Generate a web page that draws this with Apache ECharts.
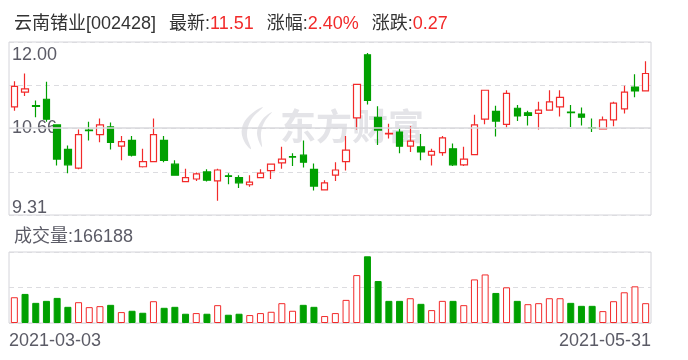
<!DOCTYPE html>
<html>
<head>
<meta charset="utf-8">
<script src="https://cdn.jsdelivr.net/npm/echarts@6/dist/echarts.min.js"></script>
<style>html,body{margin:0;padding:0;background:#fff}#c{width:688px;height:360px}</style>
</head>
<body>
<div id="c"></div>
<script>
var stockName = '云南锗业';
var stockCode = '002428';
var dates = [
'2021-03-03','2021-03-04','2021-03-05','2021-03-08','2021-03-09','2021-03-10','2021-03-11','2021-03-12',
'2021-03-15','2021-03-16','2021-03-17','2021-03-18','2021-03-19','2021-03-22','2021-03-23','2021-03-24',
'2021-03-25','2021-03-26','2021-03-29','2021-03-30','2021-03-31',
'2021-04-01','2021-04-02','2021-04-06','2021-04-07','2021-04-08','2021-04-09','2021-04-12','2021-04-13',
'2021-04-14','2021-04-15','2021-04-16','2021-04-19','2021-04-20','2021-04-21','2021-04-22','2021-04-23',
'2021-04-26','2021-04-27','2021-04-28','2021-04-29','2021-04-30',
'2021-05-06','2021-05-07','2021-05-10','2021-05-11','2021-05-12','2021-05-13','2021-05-14','2021-05-17',
'2021-05-18','2021-05-19','2021-05-20','2021-05-21','2021-05-24','2021-05-25','2021-05-26','2021-05-27',
'2021-05-28','2021-05-31'
];
var opens  = [10.99,11.22,11.01,11.11,10.71,10.33,10.04,10.63,10.56,10.68,10.38,10.47,10.06,10.14,10.47,10.10,9.83,9.87,9.98,9.84,
              9.92,9.89,9.78,9.89,10.00,10.12,10.22,10.24,10.02,9.70,9.93,10.14,10.82,11.80,10.83,10.57,10.60,10.38,10.37,10.24,
              10.28,10.34,10.09,10.25,10.80,10.92,10.72,10.97,10.90,10.89,10.94,10.99,10.91,10.88,10.67,10.65,10.79,10.96,11.30,11.24];
var closes = [11.31,11.27,11.00,10.80,10.18,10.09,10.56,10.62,10.71,10.44,10.45,10.24,10.14,10.56,10.16,9.93,9.89,9.95,9.85,10.01,
              9.91,9.81,9.82,9.96,10.10,10.18,10.21,10.13,9.76,9.81,10.01,10.32,11.34,11.09,10.63,10.58,10.38,10.46,10.29,10.30,
              10.51,10.09,10.18,10.71,11.25,10.77,11.20,10.85,10.86,10.94,11.07,11.14,10.90,10.83,10.66,10.79,11.05,11.22,11.24,11.51];
var lows   = [10.93,11.16,10.83,10.76,10.08,9.96,10.02,10.47,10.44,10.33,10.16,10.22,10.05,10.13,10.13,9.92,9.82,9.84,9.83,9.53,
              9.79,9.73,9.75,9.89,9.87,10.03,10.07,10.05,9.69,9.69,9.84,10.00,10.64,11.03,10.40,10.50,10.27,10.29,10.16,10.08,
              10.23,10.07,10.07,10.25,10.72,10.53,10.67,10.77,10.70,10.64,10.94,10.84,10.68,10.70,10.60,10.65,10.69,10.89,11.14,11.24];
var highs  = [11.39,11.51,11.09,11.38,10.72,10.39,10.64,10.76,10.81,10.75,10.54,10.54,10.34,10.81,10.54,10.16,10.03,9.97,10.02,10.03,
              9.96,9.93,9.93,10.02,10.11,10.37,10.27,10.47,10.11,9.85,10.13,10.54,11.35,11.83,11.00,10.73,10.65,10.69,10.57,10.34,
              10.54,10.42,10.37,10.87,11.25,11.01,11.25,11.02,10.93,11.07,11.25,11.25,11.02,10.98,10.81,10.84,11.07,11.32,11.50,11.70];
var volumes = [216000,244000,169000,185600,210500,135700,174500,133000,141300,152400,91400,102500,85900,182800,127400,135700,77600,83100,77600,149600,
               69300,77600,66500,83100,94200,166200,102500,152400,135700,58200,83100,193900,401700,559500,351800,185600,185600,207800,160700,108000,
               185600,185600,149600,365600,407200,252100,299200,185600,157900,166200,207800,207800,169000,144000,144000,99700,182800,257600,307500,166188];
var priceTicks = [9.31, 12.00];
var volumeMax = 595500;

var RED = '#f22a2a', GREEN = '#00a000', GRAY = '#5b5b66', LINE = '#d4d4da', WM = '#e4e4e8';
var FONT = "'Liberation Sans','Noto Sans CJK SC',sans-serif";

var n = closes.length;
var kData = [];
for (var i = 0; i < n; i++) kData.push([opens[i], closes[i], lows[i], highs[i]]);
var volData = volumes.map(function (v, i) {
  var up = i === 0 ? closes[0] >= opens[0] : closes[i] >= closes[i - 1];
  return {value: v, itemStyle: up ? {color: '#fff', borderColor: RED, borderWidth: 1} : {color: GREEN, borderColor: GREEN, borderWidth: 1}};
});
var last = closes[n - 1], prev = closes[n - 2];
var chg = last - prev, pct = chg / prev * 100;
var pMin = priceTicks[0], pMax = priceTicks[1];
var pInterval = (pMax - pMin) / 4;
function fmt2(v) { return (Math.round(v * 100 + 1e-6) / 100).toFixed(2); }

var chart = echarts.init(document.getElementById('c'));
chart.setOption({
  animation: false,
  backgroundColor: '#fff',
  textStyle: {fontFamily: FONT},
  title: [{
    left: 9, top: 10,
    text: '{k|' + stockName + '[' + stockCode + ']}{s|}{k|最新:}{v|' + fmt2(last) + '}{s|}{k|涨幅:}{v|' + fmt2(pct) + '%}{s|}{k|涨跌:}{v|' + fmt2(chg) + '}',
    textStyle: {fontWeight: 'normal', rich: {
      k: {fontSize: 18, color: '#333', fontWeight: 'normal', fontFamily: FONT},
      v: {fontSize: 18, color: RED, fontWeight: 'normal', fontFamily: FONT},
      s: {width: 13}
    }}
  }, {
    left: 9, top: 223,
    text: '成交量:' + volumes[n - 1],
    textStyle: {fontSize: 18, color: GRAY, fontWeight: 'normal', fontFamily: FONT}
  }],
  graphic: [{
    type: 'polygon', z: 0, silent: true,
    shape: {points: [[263,107],[250,115],[242,128],[244,141],[251,149],[247,135],[251,120]], smooth: 0.4},
    style: {fill: WM}
  }, {
    type: 'polygon', z: 0, silent: true,
    shape: {points: [[272,112],[262,120],[257,133],[262,147],[261,133],[265,121]], smooth: 0.4},
    style: {fill: WM}
  }, {
    type: 'text', left: 280, top: 108, z: 0, silent: true,
    style: {text: '东方财富', fontSize: 36, fontWeight: 'bold', fill: WM, fontFamily: "'Noto Sans CJK SC',sans-serif"}
  }],
  grid: [
    {left: 9, right: 37, top: 42, height: 173, show: true, borderColor: LINE, borderWidth: 1, backgroundColor: 'transparent'},
    {left: 9, right: 37, top: 252, height: 71, show: true, borderColor: LINE, borderWidth: 1, backgroundColor: 'transparent'}
  ],
  xAxis: [
    {type: 'category', gridIndex: 0, data: dates, boundaryGap: true, axisLine: {show: false}, axisTick: {show: false}, axisLabel: {show: false}, splitLine: {show: false}},
    {type: 'category', gridIndex: 1, data: dates, boundaryGap: true, axisLine: {show: false}, axisTick: {show: false}, axisLabel: {show: false}, splitLine: {show: false}},
    {type: 'category', gridIndex: 1, data: dates, boundaryGap: false, position: 'bottom', axisLine: {show: false}, axisTick: {show: false}, splitLine: {show: false},
     axisLabel: {show: true, interval: function (idx) { return idx === 0 || idx === n - 1; }, color: GRAY, fontSize: 18, margin: 9, fontFamily: FONT,
       alignMinLabel: 'left', alignMaxLabel: 'right'}}
  ],
  yAxis: [
    {type: 'value', gridIndex: 0, min: pMin, max: pMax, interval: pInterval, scale: true,
     axisLine: {show: false}, axisTick: {show: false},
     splitLine: {show: true, lineStyle: {color: '#dcdce0', type: [5, 4], width: 1}},
     axisLabel: {show: true, inside: true, margin: 3, color: GRAY, fontSize: 18, fontFamily: FONT,
       formatter: function (v, idx) {
         if (idx === 0) return '{b|' + fmt2(v) + '}';
         if (idx === 4) return '{t|' + fmt2(v) + '}';
         if (idx === 2) return '{m|' + fmt2(v) + '}';
         return '';
       },
       rich: {
         t: {fontSize: 18, color: GRAY, fontFamily: FONT, padding: [26, 0, 0, 0]},
         b: {fontSize: 18, color: GRAY, fontFamily: FONT, padding: [0, 0, 13, 0]},
         m: {fontSize: 18, color: GRAY, fontFamily: FONT}
       }}},
    {type: 'value', gridIndex: 1, min: 0, max: volumeMax, interval: volumeMax / 2,
     axisLine: {show: false}, axisTick: {show: false}, axisLabel: {show: false},
     splitLine: {show: true, lineStyle: {color: '#dcdce0', type: [5, 4], width: 1}}}
  ],
  series: [
    {type: 'candlestick', xAxisIndex: 0, yAxisIndex: 0, data: kData, barWidth: 7, z: 2,
     itemStyle: {color: '#fff', color0: GREEN, borderColor: RED, borderColor0: GREEN, borderWidth: 1.2},
     markLine: {silent: true, symbol: 'none', label: {show: false}, animation: false,
       lineStyle: {color: '#d8d8dc', type: 'solid', width: 1.5},
       data: [{yAxis: (pMin + pMax) / 2}]}},
    {type: 'bar', xAxisIndex: 1, yAxisIndex: 1, data: volData, barWidth: 7}
  ]
});
</script>
</body>
</html>
